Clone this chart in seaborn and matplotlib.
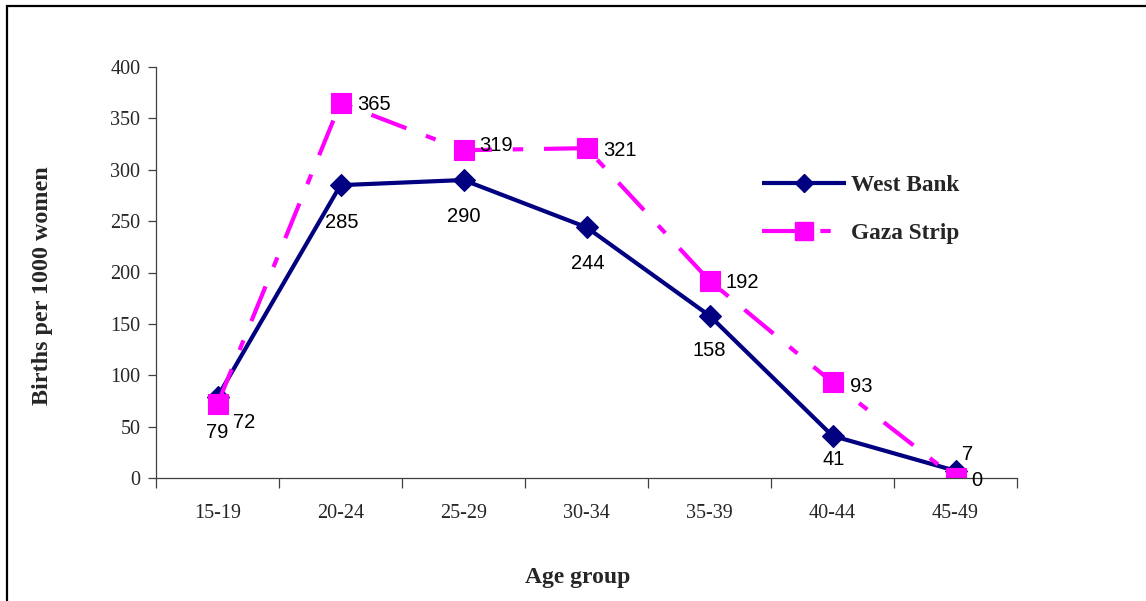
import matplotlib
matplotlib.use("Agg")
import matplotlib.pyplot as plt
import seaborn as sns
import pandas as pd
from matplotlib.patches import Rectangle
from matplotlib.lines import Line2D

# ---- data ----
age_groups = ["15-19", "20-24", "25-29", "30-34", "35-39", "40-44", "45-49"]
west_bank = [79, 285, 290, 244, 158, 41, 7]
gaza_strip = [72, 365, 319, 321, 192, 93, 0]
series_names = ["West Bank", "Gaza Strip"]
y_ticks = [0, 50, 100, 150, 200, 250, 300, 350, 400]
x_label = "Age group"
y_label = "Births per 1000 women"

df = pd.DataFrame({
    "age": age_groups * 2,
    "rate": west_bank + gaza_strip,
    "region": [series_names[0]] * len(age_groups) + [series_names[1]] * len(age_groups),
})

# ---- style ----
sns.set_theme(style="white")
plt.rcParams["font.family"] = ["Liberation Serif", "DejaVu Serif"]

navy = "#000080"
magenta = "#FF00FF"
gaza_dash = (9, 5, 2.5, 5)

fig = plt.figure(figsize=(11.46, 6.01), dpi=100)
ax = fig.add_axes([156 / 1146, (601 - 478) / 601, (1017 - 156) / 1146, 411 / 601])

sns.lineplot(
    data=df, x="age", y="rate", hue="region", style="region",
    hue_order=series_names, style_order=series_names,
    palette={series_names[0]: navy, series_names[1]: magenta},
    markers={series_names[0]: "D", series_names[1]: "s"},
    dashes={series_names[0]: "", series_names[1]: gaza_dash},
    linewidth=3.0, sort=False, legend=False, ax=ax,
)

marker_sizes = [11.0, 14.5]
for line, ms in zip(ax.lines[:2], marker_sizes):
    line.set_markersize(ms)
    line.set_markeredgecolor(line.get_color())
    line.set_markerfacecolor(line.get_color())
    line.set_markeredgewidth(0.8)
    line.set_solid_capstyle("butt")
    line.set_dash_capstyle("butt")

# ---- axes ----
n = len(age_groups)
ax.set_xlim(-0.5, n - 0.5)
ax.set_ylim(0, 400)
ax.set_yticks(y_ticks)
ax.set_yticklabels([str(v) for v in y_ticks], fontsize=14.5)
ax.set_xticks([i - 0.5 for i in range(n + 1)])
ax.set_xticklabels([""] * (n + 1))
ax.set_xticks(list(range(n)), minor=True)
ax.set_xticklabels(age_groups, minor=True, fontsize=14.5)

ax.tick_params(axis="x", which="major", direction="out", length=7.2, width=0.9,
               color="#404040", bottom=True)
ax.tick_params(axis="x", which="minor", length=0, pad=19, bottom=True)
ax.tick_params(axis="y", which="major", direction="out", length=5.8, width=0.9,
               color="#404040", left=True, pad=5.5)
for side in ["top", "right"]:
    ax.spines[side].set_visible(False)
for side in ["left", "bottom"]:
    ax.spines[side].set_color("#404040")
    ax.spines[side].set_linewidth(0.9)
ax.grid(False)

ax.set_xlabel(x_label, fontsize=17, fontweight="bold", va="center")
ax.set_ylabel(y_label, fontsize=17.4, fontweight="bold", va="center")
ax.xaxis.set_label_coords((578 - 156) / 861, (478 - 577) / 411)
ax.yaxis.set_label_coords((43 - 156) / 861, (478 - 286) / 411)

# ---- data labels ----
wb_offsets = [(0, -36), (1, -37), (0, -36), (1, -36), (0, -35), (1, -24), (12, 16)]
gz_offsets = [(16, -18), (17, -2), (16, 5), (17, -2), (16, -2), (17, -4), (16, -3)]
label_font = dict(fontsize=14.5, family=["Liberation Sans", "DejaVu Sans"], color="black")
for i, (v, off) in enumerate(zip(west_bank, wb_offsets)):
    ax.annotate(str(v), (i, v), xytext=off, textcoords="offset pixels",
                ha="center", va="center", **label_font)
for i, (v, off) in enumerate(zip(gaza_strip, gz_offsets)):
    ax.annotate(str(v), (i, v), xytext=off, textcoords="offset pixels",
                ha="left", va="center", **label_font)

# ---- legend ----
handles = [
    Line2D([], [], color=navy, lw=3.0, marker="D", markersize=9,
           markeredgecolor=navy, solid_capstyle="butt"),
    Line2D([], [], color=magenta, lw=3.0, marker="s", markersize=12.5,
           markeredgecolor=magenta, dashes=gaza_dash, dash_capstyle="butt"),
]
leg = fig.legend(handles, series_names, loc="upper left",
                 bbox_to_anchor=(762 / 1146, (601 - 175) / 601),
                 frameon=False, borderpad=0, borderaxespad=0,
                 handlelength=3.6, handletextpad=0.22, labelspacing=1.15,
                 numpoints=1, prop={"weight": "bold", "size": 16.8,
                                    "family": ["Liberation Serif", "DejaVu Serif"]})

# ---- outer frame ----
fig.patches.append(Rectangle((7 / 1146, -0.05), 1.1, (601 - 6) / 601 + 0.05,
                             transform=fig.transFigure, fill=False,
                             edgecolor="black", linewidth=1.6, zorder=10))

fig.savefig("out.png", dpi=100)
